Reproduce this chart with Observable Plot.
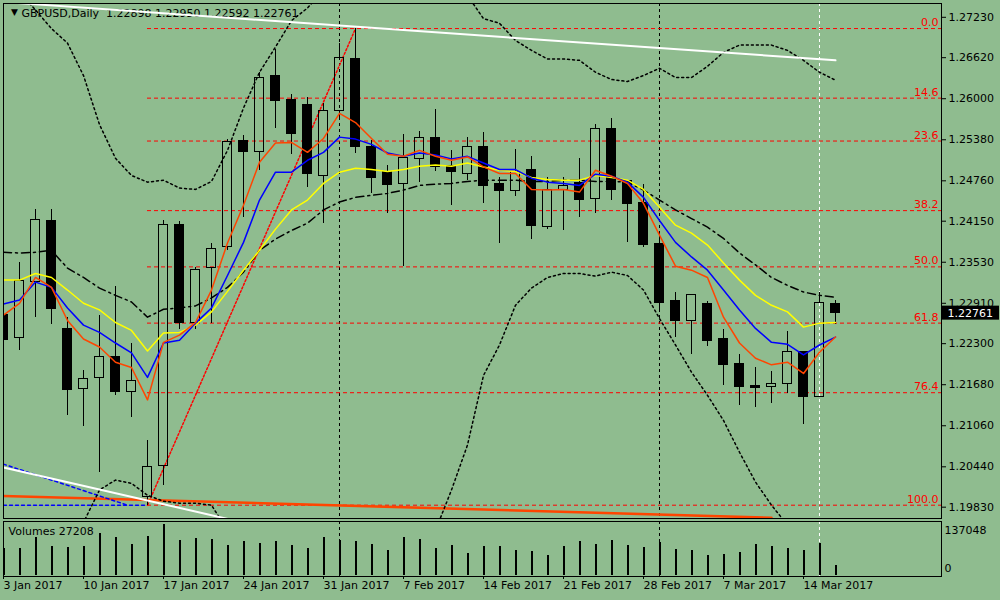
<!DOCTYPE html>
<html><head><meta charset="utf-8">
<script src="https://cdn.jsdelivr.net/npm/d3@7"></script>
<script src="https://cdn.jsdelivr.net/npm/@observablehq/plot@0.6"></script>
<style>
html,body{margin:0;padding:0;background:#8fbc8f;}
#chart{position:relative;width:1000px;height:600px;background:#8fbc8f;overflow:hidden;}
#main,#vol{position:absolute;left:0;}
#main{top:0;} #vol{top:519px;}
</style></head><body><div id="chart"><div id="main"></div><div id="vol"></div></div>
<script>
const symbol = "GBPUSD,Daily";
const opens  = [1.2274,1.2238,1.2323,1.2415,1.2252,1.2161,1.2178,1.2210,1.2157,1.1998,1.2045,1.2410,1.2261,1.2344,1.2376,1.2536,1.2519,1.2634,1.2598,1.2590,1.2484,1.2581,1.2660,1.2527,1.2489,1.2471,1.2509,1.2540,1.2498,1.2487,1.2527,1.2471,1.2460,1.2492,1.2406,1.2462,1.2472,1.2448,1.2555,1.2475,1.2442,1.2380,1.2294,1.2264,1.2290,1.2237,1.2199,1.2166,1.2164,1.2169,1.2217,1.2149,1.22898];
const highs  = [1.2306,1.2353,1.2433,1.2432,1.2270,1.2190,1.2272,1.2317,1.2231,1.2084,1.2416,1.2415,1.2345,1.2382,1.2539,1.2545,1.2640,1.2675,1.2607,1.2602,1.2593,1.2684,1.2706,1.2537,1.2499,1.2546,1.2551,1.2583,1.2522,1.2542,1.2549,1.2481,1.2524,1.2512,1.2481,1.2481,1.2509,1.2561,1.2570,1.2477,1.2470,1.2395,1.2308,1.2305,1.2293,1.2252,1.2214,1.2194,1.2188,1.2249,1.2218,1.2308,1.22950];
const lows   = [1.2197,1.2220,1.2269,1.2259,1.2122,1.2105,1.2036,1.2151,1.2119,1.1986,1.2015,1.2252,1.2252,1.2261,1.2371,1.2420,1.2492,1.2555,1.2516,1.2466,1.2412,1.2567,1.2518,1.2457,1.2427,1.2347,1.2474,1.2490,1.2439,1.2477,1.2442,1.2382,1.2453,1.2388,1.2403,1.2401,1.2421,1.2427,1.2447,1.2383,1.2376,1.2278,1.2240,1.2213,1.2225,1.2167,1.2137,1.2134,1.2139,1.2155,1.2108,1.2148,1.22592];
const closes = [1.2236,1.2324,1.2417,1.2282,1.2160,1.2176,1.2210,1.2157,1.2173,1.2044,1.2410,1.2261,1.2342,1.2373,1.2534,1.2519,1.2632,1.2596,1.2546,1.2486,1.2581,1.2661,1.2527,1.2481,1.2469,1.2510,1.2540,1.2497,1.2489,1.2527,1.2468,1.2460,1.2490,1.2407,1.2462,1.2468,1.2447,1.2555,1.2462,1.2441,1.2379,1.2291,1.2264,1.2303,1.2234,1.2198,1.2164,1.2163,1.2169,1.2217,1.2149,1.2291,1.22761];
const volumes = [71800,72500,102900,77900,76100,78800,113700,102900,84100,105600,137048,94900,100200,96700,80600,91400,86800,91400,80600,73400,102100,94100,91400,83300,67200,102100,96700,71800,80600,59100,77900,77900,67200,64500,53700,77900,91400,83300,94100,80600,75200,87900,69900,67200,53700,56400,61800,83300,77900,72500,67200,86000,27208];

const maFast = [1.2273,1.2291,1.2330,1.2315,1.2265,1.2237,1.2225,1.2202,1.2194,1.2145,1.2232,1.2243,1.2262,1.2311,1.2382,1.2439,1.2504,1.2533,1.2534,1.2519,1.2540,1.2578,1.2564,1.2540,1.2516,1.2513,1.2522,1.2513,1.2507,1.2512,1.2497,1.2487,1.2487,1.2463,1.2462,1.2463,1.2459,1.2492,1.2483,1.2472,1.2442,1.2394,1.2347,1.2341,1.2330,1.2270,1.2231,1.2208,1.2198,1.2202,1.2185,1.2217,1.2240];
const maMid  = [1.2290,1.2296,1.2323,1.2315,1.2284,1.2258,1.2247,1.2231,1.2216,1.2179,1.2231,1.2235,1.2261,1.2284,1.2333,1.2383,1.2447,1.2489,1.2489,1.2507,1.2519,1.2542,1.2539,1.2531,1.2518,1.2513,1.2518,1.2515,1.2509,1.2513,1.2503,1.2493,1.2493,1.2480,1.2474,1.2472,1.2469,1.2486,1.2483,1.2474,1.2451,1.2416,1.2383,1.2361,1.2341,1.2311,1.2281,1.2253,1.2232,1.2229,1.2213,1.2228,1.2240];
const maSlow = [1.2326,1.2326,1.2336,1.2330,1.2311,1.2291,1.2281,1.2262,1.2250,1.2219,1.2246,1.2247,1.2258,1.2278,1.2309,1.2341,1.2371,1.2403,1.2432,1.2447,1.2472,1.2489,1.2495,1.2493,1.2490,1.2493,1.2498,1.2500,1.2498,1.2503,1.2497,1.2492,1.2490,1.2481,1.2478,1.2477,1.2477,1.2484,1.2481,1.2477,1.2463,1.2436,1.2409,1.2397,1.2379,1.2352,1.2326,1.2303,1.2288,1.2278,1.2255,1.2261,1.2262];
const maLong = [1.2368,1.2367,1.2368,1.2371,1.2344,1.2330,1.2314,1.2303,1.2293,1.2270,1.2282,1.2284,1.2287,1.2299,1.2315,1.2338,1.2371,1.2388,1.2401,1.2412,1.2432,1.2444,1.2451,1.2454,1.2457,1.2462,1.2469,1.2471,1.2472,1.2475,1.2477,1.2477,1.2477,1.2475,1.2475,1.2477,1.2477,1.2475,1.2475,1.2474,1.2462,1.2447,1.2432,1.2419,1.2406,1.2389,1.2367,1.2349,1.2330,1.2318,1.2308,1.2303,1.2300];
const bbUpper = [1.2779,1.2761,1.2734,1.2706,1.2684,1.2635,1.2561,1.2510,1.2484,1.2474,1.2477,1.2465,1.2463,1.2475,1.2522,1.2586,1.2640,1.2678,1.2718,1.2737,1.2764,1.2794,1.2817,1.2825,1.2817,1.2809,1.2794,1.2779,1.2767,1.2756,1.2721,1.2714,1.2688,1.2673,1.2660,1.2660,1.2658,1.2640,1.2629,1.2626,1.2635,1.2646,1.2632,1.2632,1.2649,1.2670,1.2681,1.2681,1.2681,1.2673,1.2658,1.2640,1.2628];
const bbLower = [1.1812,1.1843,1.1873,1.1903,1.1933,1.1960,1.2009,1.2024,1.2019,1.2001,1.1992,1.1989,1.1989,1.1986,1.1948,1.1903,1.1843,1.1782,1.1737,1.1707,1.1692,1.1692,1.1707,1.1737,1.1767,1.1812,1.1873,1.1948,1.2009,1.2077,1.2182,1.2228,1.2288,1.2314,1.2330,1.2336,1.2336,1.2332,1.2338,1.2333,1.2311,1.2268,1.2228,1.2187,1.2152,1.2114,1.2066,1.2021,1.1986,1.1956,1.1926,1.1903,1.1888];

const dateTickIdx = [0,5,10,15,20,25,30,35,40,45,50];
const dateLabels = ["3 Jan 2017","10 Jan 2017","17 Jan 2017","24 Jan 2017","31 Jan 2017","7 Feb 2017","14 Feb 2017","21 Feb 2017","28 Feb 2017","7 Mar 2017","14 Mar 2017"];
const priceTicks = [1.27230,1.26620,1.26000,1.25380,1.24760,1.24150,1.23530,1.22910,1.22300,1.21680,1.21060,1.20440,1.19830];
const monthStarts = [21, 41];
const currentDay = [51];

const fibLevels = [0.0, 14.6, 23.6, 38.2, 50.0, 61.8, 76.4, 100.0];
const fibHigh = 1.2706, fibLow = 1.1986, fibLowIdx = 9, fibHighIdx = 22;

const whiteTop = [{i:0,p:1.2746},{i:52,p:1.2658}];
const whiteBottom = [{i:0,p:1.2043},{i:20,p:1.1932}];
const blueDiag = [{i:0,p:1.2048},{i:7.75,p:1.1986}];
const blueFlat = [{i:0,p:1.1986},{i:9,p:1.1986}];
const orangeLine = [{i:0,p:1.2000},{i:48,p:1.1967}];

const N = opens.length;
const candles = opens.map((o,i)=>({i, o, h:highs[i], l:lows[i], c:closes[i]}));
const X_DOMAIN = [0, 58.625];
const Y_DOMAIN = [1.19659, 1.274385];
const ppx = (Y_DOMAIN[1]-Y_DOMAIN[0])/515;
const fibPrice = lv => fibHigh - lv/100*(fibHigh - fibLow);
const last = candles[N-1];
const title = `${symbol}  ${last.o.toFixed(5)} ${last.h.toFixed(5)} ${last.l.toFixed(5)} ${last.c.toFixed(5)}`;
const font = {background:"transparent", fontFamily:"'DejaVu Sans', sans-serif", fontSize:"11px", color:"black", overflow:"visible"};
const line = (data, opts) => Plot.line(data, {x:(d,i)=>i, y:d=>d, clip:true, ...opts});
const seg = (data, opts) => Plot.line(data, {x:"i", y:"p", clip:true, ...opts});

const main = Plot.plot({
  width:1000, height:520, marginLeft:3, marginRight:59, marginTop:3, marginBottom:2,
  style: font,
  x:{domain:X_DOMAIN, axis:null},
  y:{domain:Y_DOMAIN},
  marks:[
    Plot.text([title], {frameAnchor:"top-left", dx:18, dy:10, textAnchor:"start", lineAnchor:"middle", fill:"black"}),
    Plot.text(["▼"], {frameAnchor:"top-left", dx:7.5, dy:9, lineAnchor:"middle", fontSize:9, fill:"black"}),
    Plot.ruleX(monthStarts, {stroke:"black", strokeDasharray:"3,3"}),
    Plot.ruleX(currentDay, {stroke:"white", strokeDasharray:"3,3"}),
    Plot.ruleY(fibLevels, {y:fibPrice, x1:fibLowIdx, x2:X_DOMAIN[1], stroke:"#ff0000", strokeDasharray:"4,3"}),
    Plot.text(fibLevels, {x:X_DOMAIN[1], y:fibPrice, text:d=>d.toFixed(1), textAnchor:"end", lineAnchor:"middle", dx:-3, dy:-6, fill:"#ff0000"}),
    seg([{i:fibLowIdx,p:fibLow},{i:fibHighIdx,p:fibHigh}], {stroke:"#ff0000", strokeDasharray:"2,2"}),
    seg(orangeLine, {stroke:"#ff4500", strokeWidth:2.5}),
    seg(blueDiag, {stroke:"#0000ff", strokeDasharray:"3,3"}),
    seg(blueFlat, {stroke:"#0000ff", strokeDasharray:"3,3"}),
    Plot.ruleX(candles, {x:"i", y1:"h", y2:d=>Math.max(d.o,d.c), stroke:"black", clip:true, shapeRendering:"crispEdges"}),
    Plot.ruleX(candles, {x:"i", y1:d=>Math.min(d.o,d.c), y2:"l", stroke:"black", clip:true, shapeRendering:"crispEdges"}),
    Plot.rect(candles, {x1:d=>d.i-0.3, x2:d=>d.i+0.3, y1:"o", y2:"c", fill:d=>d.c>=d.o?"none":"black", stroke:"black", clip:true, shapeRendering:"crispEdges"}),
    line(bbUpper, {stroke:"black", strokeDasharray:"2,3"}),
    line(bbLower, {stroke:"black", strokeDasharray:"2,3"}),
    line(maLong, {stroke:"black", strokeDasharray:"8,4,2,4"}),
    line(maSlow, {stroke:"#ffff00"}),
    line(maMid, {stroke:"#0000ff"}),
    line(maFast, {stroke:"#ff4500"}),
    seg(whiteTop, {stroke:"white", strokeWidth:2}),
    seg(whiteBottom, {stroke:"white", strokeWidth:2}),
    Plot.axisY({ticks:priceTicks, anchor:"right", tickFormat:d=>d.toFixed(5), tickSize:4, tickPadding:3, label:null}),
    Plot.rect([last.c], {x1:58.6875, x2:62.25, y1:d=>d-7*ppx, y2:d=>d+7*ppx, fill:"black"}),
    Plot.text([last.c], {x:X_DOMAIN[1], y:d=>d, text:d=>d.toFixed(5), textAnchor:"start", lineAnchor:"middle", dx:6, fill:"white"}),
    Plot.frame({stroke:"black"})
  ]
});
document.getElementById("main").append(main);

const vol = Plot.plot({
  width:1000, height:81, marginLeft:3, marginRight:59, marginTop:2, marginBottom:24,
  style: font,
  x:{domain:X_DOMAIN},
  y:{domain:[-2687,145110], axis:null},
  marks:[
    Plot.ruleX(monthStarts, {stroke:"black", strokeDasharray:"3,3"}),
    Plot.ruleX(currentDay, {stroke:"white", strokeDasharray:"3,3"}),
    Plot.ruleX(volumes, {x:(d,i)=>i, y1:0, y2:d=>d, stroke:"black", strokeWidth:2, clip:true, shapeRendering:"crispEdges"}),
    Plot.axisX({ticks:dateTickIdx, tickFormat:d=>dateLabels[dateTickIdx.indexOf(d)], textAnchor:"start", tickSize:3, tickPadding:2, label:null}),
    Plot.text([`Volumes ${volumes[N-1]}`], {frameAnchor:"top-left", dx:5, dy:10, textAnchor:"start", lineAnchor:"middle", fill:"black"}),
    Plot.text([String(d3.max(volumes))], {frameAnchor:"top-right", dx:3, dy:9, textAnchor:"start", lineAnchor:"middle", fill:"black"}),
    Plot.text(["0"], {frameAnchor:"bottom-right", dx:3, dy:-8, textAnchor:"start", lineAnchor:"middle", fill:"black"}),
    Plot.frame({stroke:"black"})
  ]
});
document.getElementById("vol").append(vol);
</script>
</body></html>
